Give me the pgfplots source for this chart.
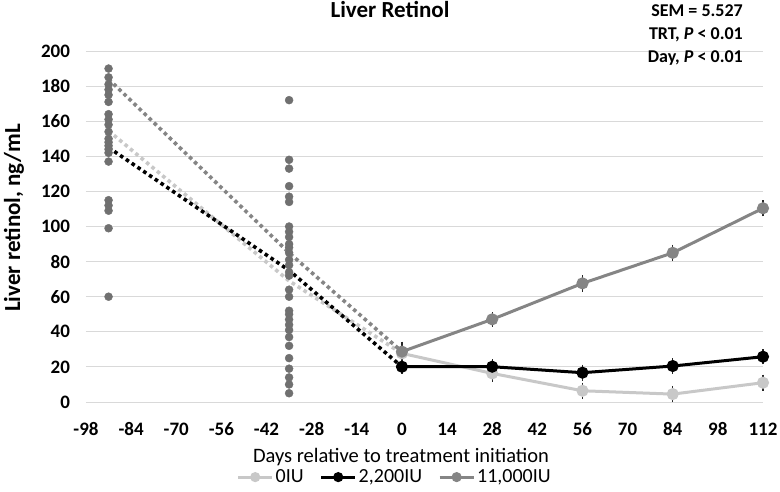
\documentclass[border=0pt]{standalone}
\usepackage{pgfplots}
\pgfplotsset{compat=1.18}
\usepackage{fontspec}
\setmainfont{Carlito}
\definecolor{cLight}{HTML}{C8C8C8}
\definecolor{cGray}{HTML}{858585}
\definecolor{cDot}{HTML}{707070}
\definecolor{cGrid}{HTML}{D9D9D9}
\definecolor{cErr}{HTML}{262626}
\pgfplotsset{
  errb/.style={error bars/.cd, y dir=both, y explicit,
    error bar style={line width=1.3pt, cErr},
    error mark options={line width=1.3pt, mark size=2.4pt, cErr}},
}
\begin{document}
\begin{tikzpicture}
\useasboundingbox (0,0) rectangle (780pt,491pt);
\begin{axis}[
  at={(86pt,89pt)}, anchor=south west,
  scale only axis, width=677pt, height=351pt,
  xmin=-98, xmax=112, ymin=0, ymax=200,
  xtick={-98,-84,...,112}, ytick={0,20,...,200},
  axis line style={draw=none},
  major tick length=0pt,
  ymajorgrids, grid style={cGrid, line width=1pt},
  clip=false,
  /pgf/number format/assume math mode=true,
  tick label style={font=\fontsize{19}{19}\selectfont\bfseries},
  xticklabel style={anchor=base, yshift=-33pt},
  yticklabel style={anchor=east, xshift=-12.5pt},
  legend style={at={(0.456,-0.214)}, anchor=center, draw=none, fill=none,
    font=\fontsize{20}{20}\selectfont, legend columns=3,
    /tikz/every even column/.append style={column sep=14pt}},
  legend image code/.code={\draw[mark repeat=2, mark phase=2, #1, mark size=3.5pt] plot coordinates {(0pt,0pt) (17pt,0pt) (34pt,0pt)};},
]
% individual observations
\addplot[only marks, mark=*, mark size=4pt, cDot, forget plot] coordinates {
(-91,60) (-91,99) (-91,109) (-91,112) (-91,115) (-91,137) (-91,142) (-91,144)
(-91,146) (-91,148) (-91,150) (-91,154) (-91,158) (-91,161) (-91,164) (-91,171)
(-91,175) (-91,178) (-91,181) (-91,185) (-91,190)};
\addplot[only marks, mark=*, mark size=4pt, cDot, forget plot] coordinates {
(-35,5) (-35,10) (-35,14) (-35,19) (-35,25) (-35,32) (-35,37) (-35,41) (-35,44)
(-35,47) (-35,50) (-35,52) (-35,60) (-35,64) (-35,72) (-35,74) (-35,78) (-35,81)
(-35,85) (-35,88) (-35,90) (-35,94) (-35,97) (-35,100) (-35,114) (-35,117)
(-35,123) (-35,133) (-35,138) (-35,172)};
% pre-treatment dotted means
\addplot[cLight, line width=3.6pt, dash pattern=on 3.6pt off 3.4pt, forget plot] coordinates {(-91,154.5) (-35,69) (0,27.7)};
\addplot[black, line width=3.6pt, dash pattern=on 3.6pt off 3.4pt, forget plot] coordinates {(-91,145) (-35,75) (0,20.1)};
\addplot[cGray, line width=3.6pt, dash pattern=on 3.6pt off 3.4pt, forget plot] coordinates {(-91,184) (-35,85) (0,28.7)};
% treatment means
\addplot[cLight, line width=3pt, mark=*, mark size=4.5pt, errb] coordinates {
(0,27.7) +- (0,3) (28,16.3) +- (0,3.3) (56,6.4) +- (0,3.3) (84,4.5) +- (0,3.3) (112,11) +- (0,3.3)};
\addlegendentry{0IU}
\addplot[black, line width=3pt, mark=*, mark size=4.5pt, errb] coordinates {
(0,20.1) +- (0,2.5) (28,20.1) +- (0,3) (56,16.7) +- (0,3.3) (84,20.5) +- (0,3) (112,25.8) +- (0,3)};
\addlegendentry{2,200IU}
\addplot[cGray, line width=3pt, mark=*, mark size=4.5pt, errb] coordinates {
(0,28.7) +- (0,4.3) (28,47.1) +- (0,2.8) (56,67.6) +- (0,3.3) (84,85) +- (0,3.3) (112,110.4) +- (0,3.3)};
\addlegendentry{11,000IU}
\end{axis}
\node[rotate=90, font=\fontsize{23}{23}\selectfont\bfseries] at (14pt,273pt) {Liver retinol, ng/mL};
\node[anchor=base, font=\fontsize{20.5}{20.5}\selectfont] at (401pt,29pt) {Days relative to treatment initiation};
\node[anchor=base, font=\fontsize{23}{23}\selectfont\bfseries] at (390pt,473pt) {Liver Retinol};
\node[anchor=base east, inner sep=0pt, font=\fontsize{18}{18}\selectfont\bfseries] at (743pt,474pt) {SEM = 5.527};
\node[anchor=base east, inner sep=0pt, font=\fontsize{18}{18}\selectfont\bfseries] at (743pt,451pt) {TRT, \textit{P} < 0.01};
\node[anchor=base east, inner sep=0pt, font=\fontsize{18}{18}\selectfont\bfseries] at (743pt,428pt) {Day, \textit{P} < 0.01};
\end{tikzpicture}
\end{document}
